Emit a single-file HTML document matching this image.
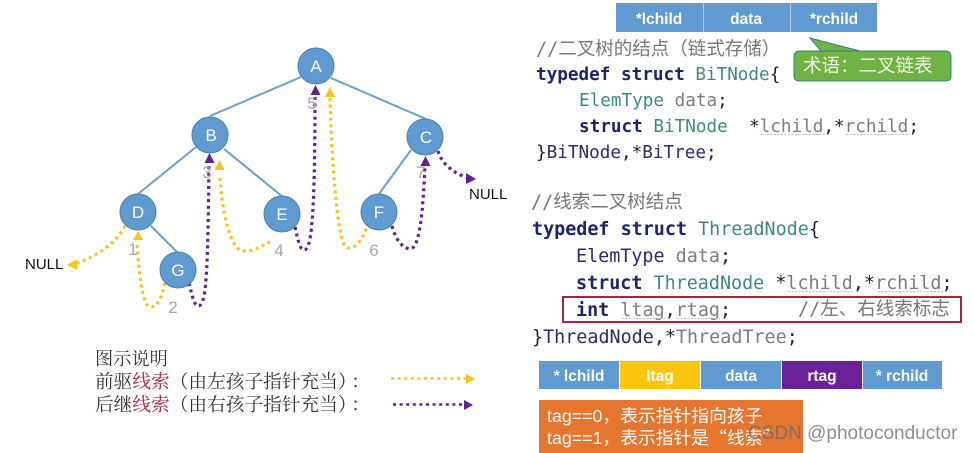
<!DOCTYPE html>
<html><head><meta charset="utf-8"><style>
html,body{margin:0;padding:0;background:#fff;width:974px;height:453px;overflow:hidden}
svg{display:block}
.c{font-family:"DejaVu Sans Mono","Liberation Mono",monospace;font-size:17.65px;white-space:pre}
.c2{font-size:18.4px}
.k{font-weight:bold;fill:#1c2470}.t{fill:#3f8a80}.n{fill:#2e2a6e}.g{fill:#7d7d7d}.b{fill:#222}
.cm{font-family:"DejaVu Sans Mono","Noto Sans CJK SC",sans-serif;font-size:18.5px;fill:#777}
.nd{fill:#5f9ad0;stroke:#4f7ea8;stroke-width:1}
.nt{font-family:"Liberation Sans",sans-serif;font-size:17px;fill:#fff;text-anchor:middle}
.num{font-family:"Liberation Sans",sans-serif;font-size:17px;fill:#a6a6a6;text-anchor:middle}
.null{font-family:"Liberation Sans",sans-serif;font-size:15px;fill:#111}
.y{fill:none;stroke:#f7c51e;stroke-width:3.2;stroke-dasharray:3 3.6}
.p{fill:none;stroke:#5f2391;stroke-width:3.2;stroke-dasharray:3 3.6}
.yf{fill:#f7c51e}.pf{fill:#5f2391}
.l{stroke:#6b9fce;stroke-width:2;fill:none}
.w{stroke:#a9d0a0;stroke-width:1;fill:none;stroke-dasharray:2 1.500}
.cell{font-family:"Liberation Sans",sans-serif;font-weight:bold;font-size:15.5px;fill:#fff;text-anchor:middle}
.s{font-family:"Noto Serif CJK SC",serif;font-size:18.7px;fill:#333}
.r{fill:#a3273f}
.o{font-family:"Liberation Sans","Noto Sans CJK SC",sans-serif;font-size:17.8px;fill:#fff}
.q{font-family:"Noto Sans CJK SC",sans-serif}
</style></head><body>
<svg width="974" height="453" viewBox="0 0 974 453" xmlns="http://www.w3.org/2000/svg">
<!-- tree edges -->
<line class="l" x1="301" y1="77" x2="210" y2="116"/>
<line class="l" x1="331" y1="78" x2="426" y2="119"/>
<line class="l" x1="196" y1="147" x2="138" y2="194"/>
<line class="l" x1="224" y1="149" x2="283" y2="197"/>
<line class="l" x1="151" y1="226" x2="177" y2="252"/>
<line class="l" x1="411" y1="150" x2="379" y2="194"/>
<!-- threads -->
<path class="y" d="M125 226C118 240 100 256 74 264"/><polygon class="yf" points="67,265 77,259 77,270"/>
<path class="y" d="M137 245C139 270 142 306 150 307C158 308 162 296 165 283"/><polygon class="yf" points="138,231 133,240 143,240"/>
<path class="p" d="M189 283C192 296 195 307 198 306C206 306 208 280 209 156"/><polygon class="pf" points="209.500,153 204.500,163 214.500,163"/>
<path class="y" d="M220 178C222 210 230 250 243 251C255 252 262 245 270 242"/><polygon class="yf" points="219.500,160 214.500,170 224.500,170"/>
<path class="p" d="M295 227C298 240 300 250 304 250C311 250 315 225 315 92"/><polygon class="pf" points="315.500,85 310.500,95 320.500,95"/>
<path class="y" d="M330 98C331 140 336 240 346 247C353 251 362 242 367 226"/><polygon class="yf" points="330,87 325,97 335,97"/>
<path class="p" d="M392 226C396 240 402 248 410 249C420 249 423 210 425 165"/><polygon class="pf" points="425.500,156 420.500,166 430.500,166"/>
<path class="p" d="M438 151C442 165 455 174 469 178"/><polygon class="pf" points="476,179 466,173 466,184"/>
<!-- nodes -->
<circle class="nd" cx="316" cy="66" r="18"/><text class="nt" x="316" y="72">A</text>
<circle class="nd" cx="210" cy="135" r="18"/><text class="nt" x="211" y="141">B</text>
<circle class="nd" cx="425" cy="137" r="18"/><text class="nt" x="426" y="143">C</text>
<circle class="nd" cx="138" cy="212" r="18"/><text class="nt" x="138" y="218">D</text>
<circle class="nd" cx="178" cy="270" r="18"/><text class="nt" x="178" y="276">G</text>
<circle class="nd" cx="282" cy="214" r="18"/><text class="nt" x="282" y="220">E</text>
<circle class="nd" cx="379" cy="212" r="18"/><text class="nt" x="379" y="218">F</text>
<!-- order numbers -->
<text class="num" x="133" y="255">1</text><text class="num" x="173" y="313">2</text><text class="num" x="207" y="178">3</text>
<text class="num" x="279" y="256">4</text><text class="num" x="312" y="109">5</text><text class="num" x="374" y="256">6</text><text class="num" x="421" y="178">7</text>
<text class="null" x="25" y="269">NULL</text><text class="null" x="469" y="199">NULL</text>
<!-- legend -->
<text class="s" x="95" y="365" style="font-size:18.200px">图示说明</text>
<text class="s" x="95" y="388">前驱<tspan class="r">线索</tspan>（由左孩子指针充当）<tspan dx="4">：</tspan></text>
<text class="s" x="95" y="411">后继<tspan class="r">线索</tspan>（由右孩子指针充当）<tspan dx="4">：</tspan></text>
<line class="y" x1="391" y1="378.500" x2="467" y2="378.500" style="stroke-width:2.500"/><polygon class="yf" points="475,379 466,374 466,384"/>
<line class="p" x1="393" y1="404.500" x2="464" y2="404.500" style="stroke-width:2.500"/><polygon class="pf" points="473,405 464,400 464,410"/>
<!-- top record -->
<rect x="616" y="3" width="87" height="29" fill="#5f9ad0"/><rect x="703.500" y="3" width="87" height="29" fill="#5f9ad0"/><rect x="791" y="3" width="86" height="29" fill="#5f9ad0"/>
<text class="cell" x="659" y="24">*lchild</text><text class="cell" x="746" y="24">data</text><text class="cell" x="834" y="24">*rchild</text>
<!-- callout -->
<path d="M800 51H945Q951 51 951 57V76Q951 81 945 81H800Q794 81 794 76V57Q794 51 800 51H821L810 38L860 51Z" fill="#6fb345" stroke="#3d7f7a" stroke-width="1"/>
<text x="803" y="72" style="font-family:'Noto Sans CJK SC',sans-serif;font-size:18.500px;fill:#f2f7e8">术语：二叉链表</text>
<!-- code 1 -->
<text class="cm" x="536" y="55">//二叉树的结点（链式存储）</text>
<text class="c" x="536" y="80"><tspan class="k">typedef struct</tspan> <tspan class="t">BiTNode</tspan><tspan class="b">{</tspan></text>
<text class="c" x="579" y="106"><tspan class="t">ElemType</tspan> <tspan class="g">data</tspan><tspan class="b">;</tspan></text>
<text class="c" x="579" y="132"><tspan class="k">struct</tspan> <tspan class="t">BiTNode</tspan>  <tspan class="b">*</tspan><tspan class="g">lchild</tspan><tspan class="b">,*</tspan><tspan class="g">rchild</tspan><tspan class="b">;</tspan></text>
<text class="c" x="536" y="158"><tspan class="b">}</tspan><tspan class="n">BiTNode</tspan><tspan class="b">,*</tspan><tspan class="n">BiTree</tspan><tspan class="b">;</tspan></text>
<line class="w" x1="760" y1="134.500" x2="825" y2="134.500"/><line class="w" x1="846" y1="134.500" x2="910" y2="134.500"/>
<!-- code 2 -->
<text class="cm" x="531" y="208">//线索二叉树结点</text>
<text class="c c2" x="532" y="235"><tspan class="k">typedef struct</tspan> <tspan class="t">ThreadNode</tspan><tspan class="b">{</tspan></text>
<text class="c c2" x="576" y="262"><tspan class="n">ElemType</tspan> <tspan class="g">data</tspan><tspan class="b">;</tspan></text>
<text class="c c2" x="576" y="289"><tspan class="k">struct</tspan> <tspan class="t">ThreadNode</tspan> <tspan class="b">*</tspan><tspan class="g">lchild</tspan><tspan class="b">,*</tspan><tspan class="g">rchild</tspan><tspan class="b">;</tspan></text>
<text class="c c2" x="576" y="316"><tspan class="k">int</tspan> <tspan class="g">ltag</tspan><tspan class="b">,</tspan><tspan class="g">rtag</tspan><tspan class="b">;</tspan></text>
<text class="cm" x="798" y="315">//左、右线索标志</text>
<text class="c c2" x="532" y="343"><tspan class="b">}</tspan><tspan class="n">ThreadNode</tspan><tspan class="b">,*</tspan><tspan class="g">ThreadTree</tspan><tspan class="b">;</tspan></text>
<line class="w" x1="788" y1="291.500" x2="853" y2="291.500"/><line class="w" x1="878" y1="291.500" x2="943" y2="291.500"/>
<line class="w" x1="622" y1="318.500" x2="665" y2="318.500"/><line class="w" x1="677" y1="318.500" x2="720" y2="318.500"/>
<rect x="563" y="297" width="398" height="25" fill="none" stroke="#a3273f" stroke-width="2"/>
<!-- bottom record -->
<rect x="539" y="361" width="80" height="28" fill="#5f9ad0"/><rect x="620" y="361" width="80" height="28" fill="#fcc60e"/><rect x="701" y="361" width="80" height="28" fill="#5f9ad0"/><rect x="782" y="361" width="80" height="28" fill="#6a2199"/><rect x="863" y="361" width="79" height="28" fill="#5f9ad0"/>
<text class="cell" x="579" y="381">* lchild</text><text class="cell" x="660" y="381">ltag</text><text class="cell" x="741" y="381">data</text><text class="cell" x="822" y="381">rtag</text><text class="cell" x="902" y="381">* rchild</text>
<!-- orange box -->
<rect x="539" y="400" width="264" height="53" fill="#e5762f"/>
<text class="o" x="547" y="422">tag==0，表示指针指向孩子</text>
<text class="o" x="547" y="444">tag==1，表示指针是<tspan class="q">“线索”</tspan></text>
<!-- watermark -->
<text x="748" y="439" style="font-family:'Liberation Sans',sans-serif;font-size:19px;fill:#6a6a6a;fill-opacity:.75">CSDN @photoconductor</text>
</svg>
</body></html>
